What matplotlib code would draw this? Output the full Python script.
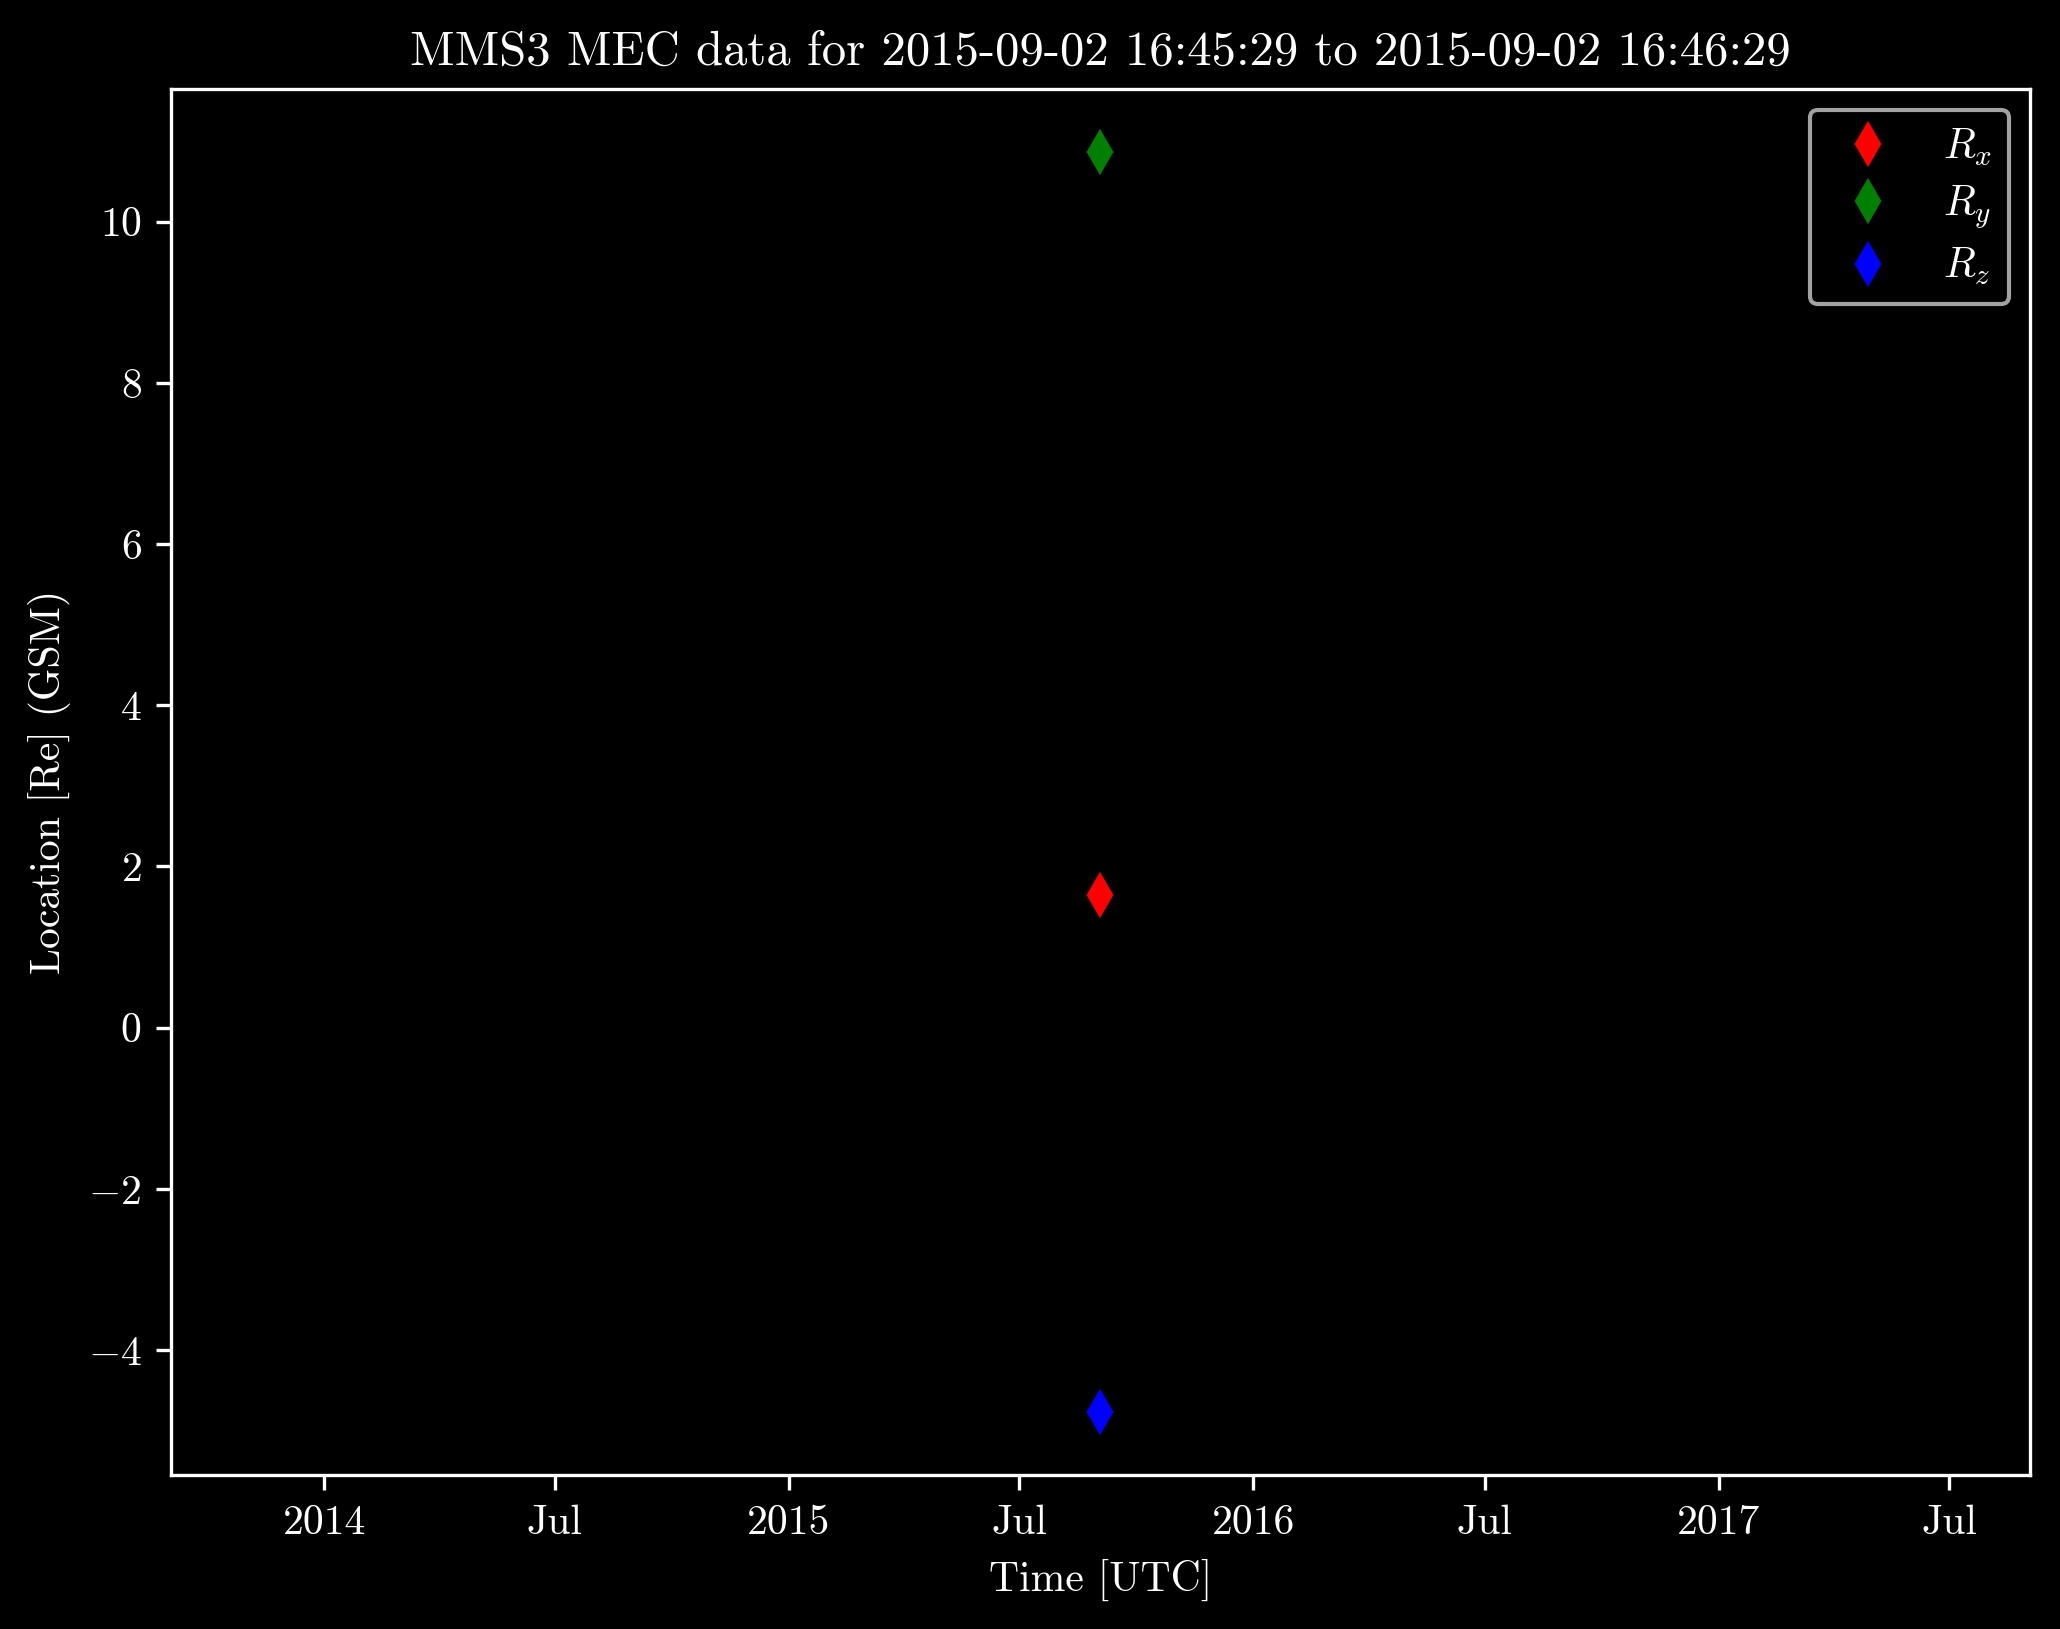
import matplotlib
matplotlib.use('Agg')

import datetime as dt
import matplotlib.pyplot as plt
import matplotlib.dates as mdates

# MEC position for MMS3 (one sample)
times = [dt.datetime(2015, 9, 2, 16, 45, 29)]
rx = [1.65]
ry = [10.86]
rz = [-4.77]

plt.style.use('dark_background')
plt.rcParams['font.family'] = ['cmr10']
plt.rcParams['mathtext.fontset'] = 'cm'
plt.rcParams['axes.formatter.use_mathtext'] = True
plt.rcParams['font.size'] = 10

fig, ax = plt.subplots(figsize=(2060 / 300, 1629 / 300), dpi=300)
fig.subplots_adjust(left=0.0829, right=0.9853, top=0.9452, bottom=0.0944)

ax.plot(times, rx, 'd', color='red', markersize=6.5, label='$R_x$')
ax.plot(times, ry, 'd', color='green', markersize=6.5, label='$R_y$')
ax.plot(times, rz, 'd', color='blue', markersize=6.5, label='$R_z$')

# single sample -> window of +/- 2 years, like the date locator does
span = dt.timedelta(days=2 * 365.2425)
ax.set_xlim(times[0] - span, times[0] + span)
loc = mdates.AutoDateLocator()
ax.xaxis.set_major_locator(loc)
ax.xaxis.set_major_formatter(mdates.ConciseDateFormatter(loc))

ax.set_title('MMS3 MEC data for 2015-09-02 16:45:29 to 2015-09-02 16:46:29', fontsize=11.7)
ax.set_xlabel('Time [UTC]')
ax.set_ylabel('Location [Re] (GSM)')
ax.legend(loc='upper right', labelspacing=0.37)

fig.savefig('out.png', dpi=300)
